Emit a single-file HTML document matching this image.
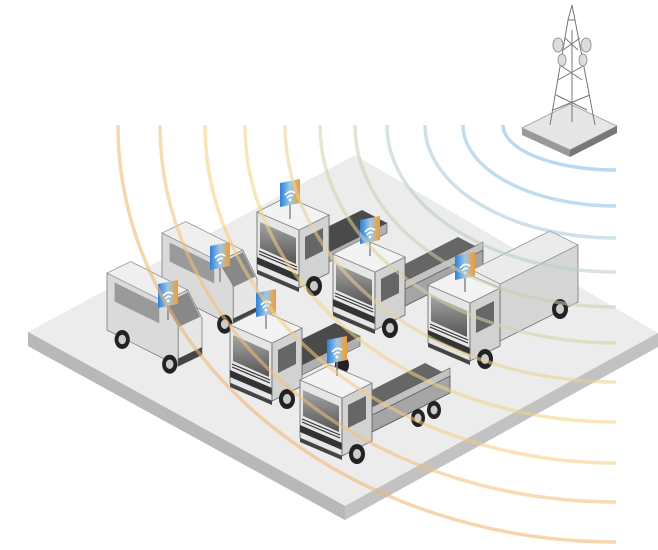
<!DOCTYPE html>
<html><head><meta charset="utf-8"><style>html,body{margin:0;padding:0;background:#fff;width:658px;height:550px;overflow:hidden}</style></head>
<body>
<svg width="658" height="550" viewBox="0 0 658 550" xmlns="http://www.w3.org/2000/svg">
<defs>
<linearGradient id="bg" x1="0" x2="1" y1="0" y2="0"><stop offset="0" stop-color="#2d7fd6"/><stop offset="0.5" stop-color="#9cc8e8"/><stop offset="1" stop-color="#f59a2a"/></linearGradient>
<linearGradient id="ws" x1="0" x2="0" y1="0" y2="1"><stop offset="0" stop-color="#a5a5a5"/><stop offset="1" stop-color="#555"/></linearGradient>
<g id="cab">
<path d="M0,0 L42,18 L42,-40 L0,-58 Z" fill="#e6e6e6" stroke="#666" stroke-width="0.8"/>
<path d="M3,-22 L39,-6 L39,-32 L3,-48 Z" fill="url(#ws)"/>
<path d="M0,-6 L42,12 L42,5 L0,-13 Z" fill="#333"/>
<path d="M2,-16 L40,0 M2,-19 L40,-3" stroke="#333" stroke-width="1.2"/>
<path d="M0,0 L42,18 L42,22 L0,4 Z" fill="#444"/>
<path d="M42,18 L72,3 L72,-55 L42,-40 Z" fill="#d2d2d2" stroke="#666" stroke-width="0.8"/>
<path d="M0,-58 L42,-40 L72,-55 L30,-73 Z" fill="#f3f3f3" stroke="#888" stroke-width="0.8"/>
<path d="M48,-10 L66,-19 L66,-42 L48,-33 Z" fill="#666"/>
<ellipse cx="57" cy="16" rx="8" ry="10" fill="#222"/><ellipse cx="57" cy="16" rx="4" ry="5" fill="#ccc"/>
</g>
<g id="bed">
<path d="M72,-6 L150,-45 L150,-62 L72,-23 Z" fill="#a5a5a5" stroke="#555" stroke-width="0.8"/>
<path d="M72,-23 L150,-62 L125,-75 L72,-48 Z" fill="#666"/>
<path d="M72,-23 L150,-62 L150,-70 L72,-31 Z" fill="#c2c2c2" stroke="#555" stroke-width="0.6"/>
<ellipse cx="118" cy="-20" rx="7" ry="9" fill="#222"/><ellipse cx="118" cy="-20" rx="3.5" ry="4.5" fill="#ccc"/>
<ellipse cx="134" cy="-28" rx="7" ry="9" fill="#222"/><ellipse cx="134" cy="-28" rx="3.5" ry="4.5" fill="#ccc"/>
</g>
<g id="flat">
<path d="M72,-8 L130,-37 L130,-47 L72,-18 Z" fill="#b0b0b0" stroke="#555" stroke-width="0.6"/>
<path d="M72,-18 L130,-47 L105,-60 L60,-38 Z" fill="#4a4a4a"/>
<ellipse cx="112" cy="-18" rx="7" ry="9" fill="#222"/>
</g>
<g id="box">
<path d="M72,-2 L150,-41 L150,-98 L72,-59 Z" fill="#d6d6d6" stroke="#777" stroke-width="0.8"/>
<path d="M72,-59 L150,-98 L122,-112 L44,-73 Z" fill="#ebebeb" stroke="#999" stroke-width="0.8"/>
<ellipse cx="132" cy="-34" rx="8" ry="10" fill="#222"/><ellipse cx="132" cy="-34" rx="4" ry="5" fill="#ccc"/>
</g>
<g id="van">
<path d="M0,0 L75,38 L75,-5 L60,-30 L0,-60 Z" fill="#dadada" stroke="#777" stroke-width="0.8"/>
<path d="M0,-60 L60,-30 L85,-42 L25,-72 Z" fill="#efefef" stroke="#999" stroke-width="0.8"/>
<path d="M75,38 L100,26 L100,-12 L85,-42 L60,-30 L75,-5 Z" fill="#e6e6e6" stroke="#777" stroke-width="0.8"/>
<path d="M62,-28 L85,-40 L98,-14 L75,-3 Z" fill="#888"/>
<path d="M8,-30 L55,-7 L55,-27 L8,-50 Z" fill="#9a9a9a"/>
<path d="M75,30 L100,18 L100,26 L75,38 Z" fill="#444"/>
<ellipse cx="16" cy="10" rx="8" ry="10" fill="#222"/><ellipse cx="16" cy="10" rx="4" ry="5" fill="#ccc"/>
<ellipse cx="66" cy="36" rx="8" ry="10" fill="#222"/><ellipse cx="66" cy="36" rx="4" ry="5" fill="#ccc"/>
</g>
<g id="badge">
<line x1="0" y1="0" x2="0" y2="14" stroke="#888" stroke-width="1.5"/>
<path d="M-10,-22 L10,-26 L10,-2 L-10,2 Z" fill="url(#bg)"/>
<path d="M-5,-10 Q0,-16 5,-12 M-3,-7 Q0,-11 3,-9" stroke="#fff" stroke-width="1.6" fill="none"/>
<circle cx="0" cy="-5" r="1.4" fill="#fff"/>
</g>
</defs>

<path d="M28,332 L28,346 L345,520 L658,347 L658,333 Z" fill="#c2c2c2"/>
<path d="M28,332 L355,155 L658,333 L345,506 Z" fill="#ececec"/>
<path d="M28,332 L345,506 L345,520 L28,346 Z" fill="#b8b8b8"/>

<path d="M522,128 L570,104 L617,126 L570,150 Z" fill="#e6e6e6" stroke="#aaa"/>
<path d="M522,128 L570,150 L570,157 L522,135 Z" fill="#999"/>
<path d="M570,150 L617,126 L617,133 L570,157 Z" fill="#777"/>
<g stroke="#777" stroke-width="1" fill="none">
<path d="M550,125 L568,20 L575,20 L595,125 M568,20 L572,5 L575,20 M553,110 L590,95 M556,95 L587,110 M558,80 L585,65 M560,65 L582,80 M563,50 L580,38 M565,38 L578,50 M572,122 L572,30"/>
</g>
<ellipse cx="558" cy="45" rx="5" ry="7" fill="#ddd" stroke="#999"/>
<ellipse cx="586" cy="45" rx="5" ry="7" fill="#ddd" stroke="#999"/>
<ellipse cx="562" cy="60" rx="4" ry="6" fill="#ddd" stroke="#999"/>
<ellipse cx="583" cy="60" rx="4" ry="6" fill="#ddd" stroke="#999"/>

<use href="#van" transform="translate(162,290) scale(0.95)"/>
<use href="#van" transform="translate(107,330) scale(0.95)"/>
<use href="#flat" transform="translate(257,270)"/><use href="#cab" transform="translate(257,270)"/>
<use href="#bed" transform="translate(333,312)"/><use href="#cab" transform="translate(333,312)"/>
<use href="#box" transform="translate(428,343)"/><use href="#cab" transform="translate(428,343)"/>
<use href="#flat" transform="translate(230,383)"/><use href="#cab" transform="translate(230,383)"/>
<use href="#bed" transform="translate(300,438)"/><use href="#cab" transform="translate(300,438)"/>

<use href="#badge" transform="translate(290,205)"/>
<use href="#badge" transform="translate(370,242)"/>
<use href="#badge" transform="translate(465,278)"/>
<use href="#badge" transform="translate(220,268)"/>
<use href="#badge" transform="translate(168,306)"/>
<use href="#badge" transform="translate(266,315)"/>
<use href="#badge" transform="translate(337,362)"/>

<g fill="none" stroke-width="3.5" opacity="0.55">
<path d="M503,125 A113,45 0 0 0 616,170" stroke="#7fbde6"/>
<path d="M463,125 A153,81 0 0 0 616,206" stroke="#8dc3e2"/>
<path d="M425,125 A191,113 0 0 0 616,238" stroke="#a7c9d8"/>
<path d="M387,125 A229,147 0 0 0 616,272" stroke="#b9cdc6"/>
<path d="M355,125 A261,182 0 0 0 616,307" stroke="#c8cfb5"/>
<path d="M320,125 A296,218 0 0 0 616,343" stroke="#d8d2a5"/>
<path d="M285,125 A331,257 0 0 0 616,382" stroke="#e8d395"/>
<path d="M245,125 A371,297 0 0 0 616,422" stroke="#f3d387"/>
<path d="M205,125 A411,338 0 0 0 616,463" stroke="#f6cc80"/>
<path d="M160,125 A456,377 0 0 0 616,502" stroke="#f4c07a"/>
<path d="M118,125 A498,417 0 0 0 616,542" stroke="#f2b46f"/>
</g>
</svg>
</body></html>
